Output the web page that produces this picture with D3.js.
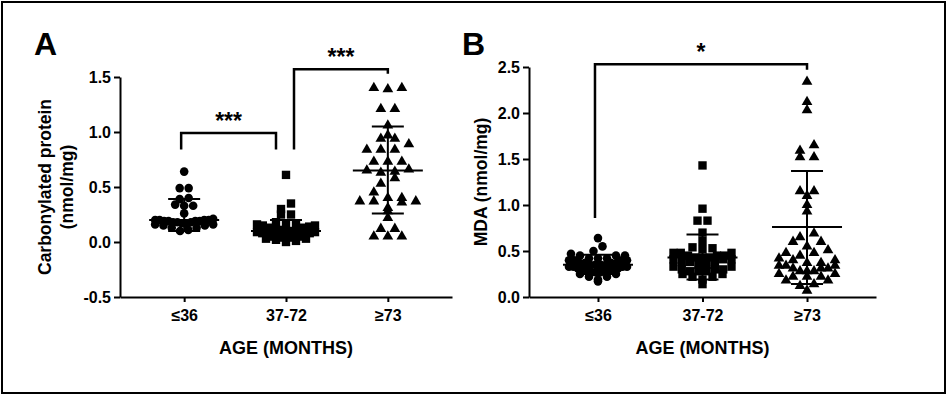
<!doctype html>
<html>
<head>
<meta charset="utf-8">
<script src="https://cdnjs.cloudflare.com/ajax/libs/d3/7.8.5/d3.min.js"></script>
<style>
  body { margin: 0; background: #fff; }
  text { font-family: "Liberation Sans", Arial, sans-serif; font-weight: bold; fill: #000; }
</style>
</head>
<body>
<svg id="fig" width="947" height="395"></svg>
<script>
var groups = ["\u226436", "37-72", "\u226573"];

// panel A: carbonylated protein (nmol/mg)
var carbonyl36 = [0.64, 0.49, 0.49, 0.40, 0.39, 0.34, 0.33, 0.33, 0.26, 0.21, 0.20, 0.20, 0.20, 0.20,
  0.19, 0.19, 0.19, 0.19, 0.18, 0.18, 0.18, 0.17, 0.17, 0.16, 0.16, 0.15, 0.15, 0.13, 0.13, 0.11, 0.10];
var carbonyl72 = [0.61, 0.35, 0.30, 0.25, 0.25, 0.18, 0.17, 0.17, 0.16, 0.15, 0.15, 0.14, 0.13, 0.13,
  0.12, 0.12, 0.11, 0.10, 0.10, 0.09, 0.09, 0.08, 0.08, 0.07, 0.07, 0.06, 0.06, 0.05, 0.05, 0.04, 0.04,
  0.03, 0.03, 0.02, 0.01, 0.00];
var carbonyl73 = [1.40, 1.39, 1.40, 1.21, 1.21, 1.06, 0.97, 0.94, 0.94, 0.89, 0.84, 0.84, 0.84, 0.73,
  0.73, 0.73, 0.66, 0.65, 0.64, 0.63, 0.58, 0.53, 0.45, 0.40, 0.40, 0.37, 0.37, 0.37, 0.36, 0.31, 0.28,
  0.22, 0.12, 0.12, 0.05, 0.05, 0.05];
var carbonylMean = [0.20, 0.10, 0.65];
var carbonylLow = [0.10, 0.02, 0.26];
var carbonylHigh = [0.39, 0.20, 1.05];
var carbonylTicks = [-0.5, 0, 0.5, 1.0, 1.5];
// brackets: from group, to group, bar height, leg ends (data units)
var carbonylBrackets = [
  { from: 0, to: 1, top: 0.99, legFrom: 0.84, legTo: 0.84, label: "***" },
  { from: 1, to: 2, top: 1.57, legFrom: 0.84, legTo: 1.53, label: "***" }
];

// panel B: MDA (nmol/mg)
var mda36 = [0.64, 0.55, 0.50, 0.47, 0.45, 0.45, 0.45, 0.42, 0.42, 0.42, 0.40, 0.40, 0.40, 0.40, 0.37,
  0.37, 0.37, 0.37, 0.35, 0.35, 0.35, 0.35, 0.33, 0.33, 0.33, 0.33, 0.31, 0.31, 0.31, 0.31, 0.29, 0.29,
  0.29, 0.27, 0.27, 0.27, 0.25, 0.25, 0.22, 0.22, 0.19, 0.17];
var mda72 = [1.43, 0.96, 0.83, 0.83, 0.70, 0.61, 0.54, 0.53, 0.52, 0.48, 0.48, 0.48, 0.45, 0.45, 0.45,
  0.43, 0.43, 0.43, 0.41, 0.41, 0.41, 0.38, 0.38, 0.38, 0.35, 0.35, 0.33, 0.33, 0.30, 0.30, 0.30, 0.28,
  0.28, 0.28, 0.25, 0.25, 0.22, 0.22, 0.19, 0.14];
var mda73 = [2.34, 2.12, 2.03, 1.65, 1.59, 1.52, 1.52, 1.15, 1.15, 1.10, 1.00, 0.93, 0.69, 0.65, 0.60,
  0.60, 0.55, 0.51, 0.48, 0.48, 0.45, 0.42, 0.40, 0.40, 0.37, 0.37, 0.34, 0.34, 0.34, 0.31, 0.31, 0.31,
  0.28, 0.28, 0.28, 0.25, 0.25, 0.22, 0.22, 0.22, 0.18, 0.18, 0.14, 0.12, 0.07];
var mdaMean = [0.35, 0.43, 0.76];
var mdaLow = [0.25, 0.19, 0.14];
var mdaHigh = [0.46, 0.68, 1.37];
var mdaTicks = [0, 0.5, 1.0, 1.5, 2.0, 2.5];
var mdaBrackets = [
  { from: 0, to: 2, top: 2.53, legFrom: 0.86, legTo: 2.47, label: "*" }
];

var svg = d3.select("#fig");
svg.append("rect").attr("x", 2).attr("y", 2).attr("width", 943).attr("height", 391)
  .attr("fill", "#fff").attr("stroke", "#000").attr("stroke-width", 2);

// marker per group; row = row height in px, gap = spacing in a row, maxW = widest row
var markers = [
  { type: d3.symbolCircle, size: 58, row: 7, gap: 9, maxW: 58 },
  { type: d3.symbolSquare, size: 70, row: 7, gap: 10, maxW: 58 },
  { type: d3.symbolTriangle, size: 50, row: 8, gap: 14, maxW: 56 }
];

// rows of points side by side, like a column scatter: lowest values in the middle of a row
function scatterRows(vals, y, m) {
  var rows = d3.groups(vals.map(v => ({ v: v, y: y(v) })), d => Math.floor(d.y / m.row));
  var out = [];
  rows.forEach(([, pts]) => {
    pts.sort((a, b) => a.v - b.v);
    var n = pts.length;
    var step = n > 1 ? Math.min(m.gap, m.maxW / (n - 1)) : 0;
    pts.forEach((p, k) => {
      var slot;
      if (n % 2) slot = k === 0 ? 0 : (k % 2 ? 1 : -1) * Math.ceil(k / 2);
      else slot = (k % 2 ? 1 : -1) * (Math.floor(k / 2) + 0.5);
      out.push({ x: slot * step, y: p.y });
    });
  });
  return out;
}

function panel(opt) {
  var g = svg.append("g");
  var x = d3.scalePoint().domain(groups).range(opt.xRange).padding(opt.pad);
  var y = d3.scaleLinear().domain(opt.yDomain).range([297, opt.yTop]);

  // points
  opt.series.forEach((vals, i) => {
    var m = markers[i];
    var sym = d3.symbol().type(m.type).size(m.size);
    g.append("g").selectAll("path")
      .data(scatterRows(vals, y, m))
      .enter().append("path")
      .attr("d", sym)
      .attr("transform", d => `translate(${x(groups[i]) + d.x},${d.y})`)
      .attr("fill", "#000");
  });

  // mean and SD bars
  var eb = g.append("g").attr("stroke", "#000").attr("stroke-width", 2);
  groups.forEach((c, i) => {
    var cx = x(c);
    eb.append("line").attr("x1", cx).attr("x2", cx).attr("y1", y(opt.low[i])).attr("y2", y(opt.high[i]));
    eb.append("line").attr("x1", cx - 35).attr("x2", cx + 35).attr("y1", y(opt.mean[i])).attr("y2", y(opt.mean[i]));
    [opt.low[i], opt.high[i]].forEach(v => {
      eb.append("line").attr("x1", cx - 16).attr("x2", cx + 16).attr("y1", y(v)).attr("y2", y(v));
    });
  });

  // axes
  var fmt = d => d3.format(".1f")(d).replace("\u2212", "-");
  var ya = g.append("g").attr("transform", `translate(${opt.xRange[0]},0)`)
    .call(d3.axisLeft(y).tickValues(opt.ticks).tickFormat(fmt).tickSize(6).tickPadding(3).tickSizeOuter(0));
  var xa = g.append("g").attr("transform", "translate(0,297)")
    .call(d3.axisBottom(x).tickSize(5).tickPadding(8).tickSizeOuter(0));
  [ya, xa].forEach(a => {
    a.selectAll("path,line").attr("stroke", "#000").attr("stroke-width", 2);
    a.selectAll("text").attr("font-size", 16).attr("fill", "#000")
      .style("font-family", '"Liberation Sans", Arial, sans-serif').style("font-weight", "bold");
  });

  // significance brackets
  opt.brackets.forEach(b => {
    var x0 = x(groups[b.from]) + (b.from === 1 ? 8 : -3);
    var x1 = x(groups[b.to]) + (b.to === 1 ? -10 : 0);
    g.append("path")
      .attr("d", `M${x0},${y(b.legFrom)}V${y(b.top)}H${x1}V${y(b.legTo)}`)
      .attr("fill", "none").attr("stroke", "#000").attr("stroke-width", 2.5);
    g.append("text").attr("x", (x0 + x1) / 2).attr("y", y(b.top) - 4)
      .attr("text-anchor", "middle").attr("font-size", 23).text(b.label);
  });

  // titles
  var xm = (opt.xRange[0] + opt.xRange[1]) / 2;
  g.append("text").attr("x", xm).attr("y", 354).attr("text-anchor", "middle")
    .attr("font-size", 18).text("AGE (MONTHS)");
  opt.yTitle.forEach((t, k) => {
    g.append("text").attr("transform", `translate(${opt.yTitleX + k * 22},${opt.yTitleY}) rotate(-90)`)
      .attr("text-anchor", "middle").attr("font-size", 17.5).text(t);
  });
  g.append("text").attr("x", opt.letterX).attr("y", 55).attr("font-size", 32).text(opt.letter);
}

panel({
  letter: "A", letterX: 34,
  xRange: [120, 452], pad: 0.63, yDomain: [-0.5, 1.5], yTop: 77, ticks: carbonylTicks,
  series: [carbonyl36, carbonyl72, carbonyl73],
  mean: carbonylMean, low: carbonylLow, high: carbonylHigh,
  brackets: carbonylBrackets,
  yTitle: ["Carbonylated protein", "(nmol/mg)"], yTitleX: 51, yTitleY: 187
});

panel({
  letter: "B", letterX: 462,
  xRange: [529, 876], pad: 0.66, yDomain: [0, 2.5], yTop: 67, ticks: mdaTicks,
  series: [mda36, mda72, mda73],
  mean: mdaMean, low: mdaLow, high: mdaHigh,
  brackets: mdaBrackets,
  yTitle: ["MDA (nmol/mg)"], yTitleX: 487, yTitleY: 182
});
</script>
</body>
</html>
